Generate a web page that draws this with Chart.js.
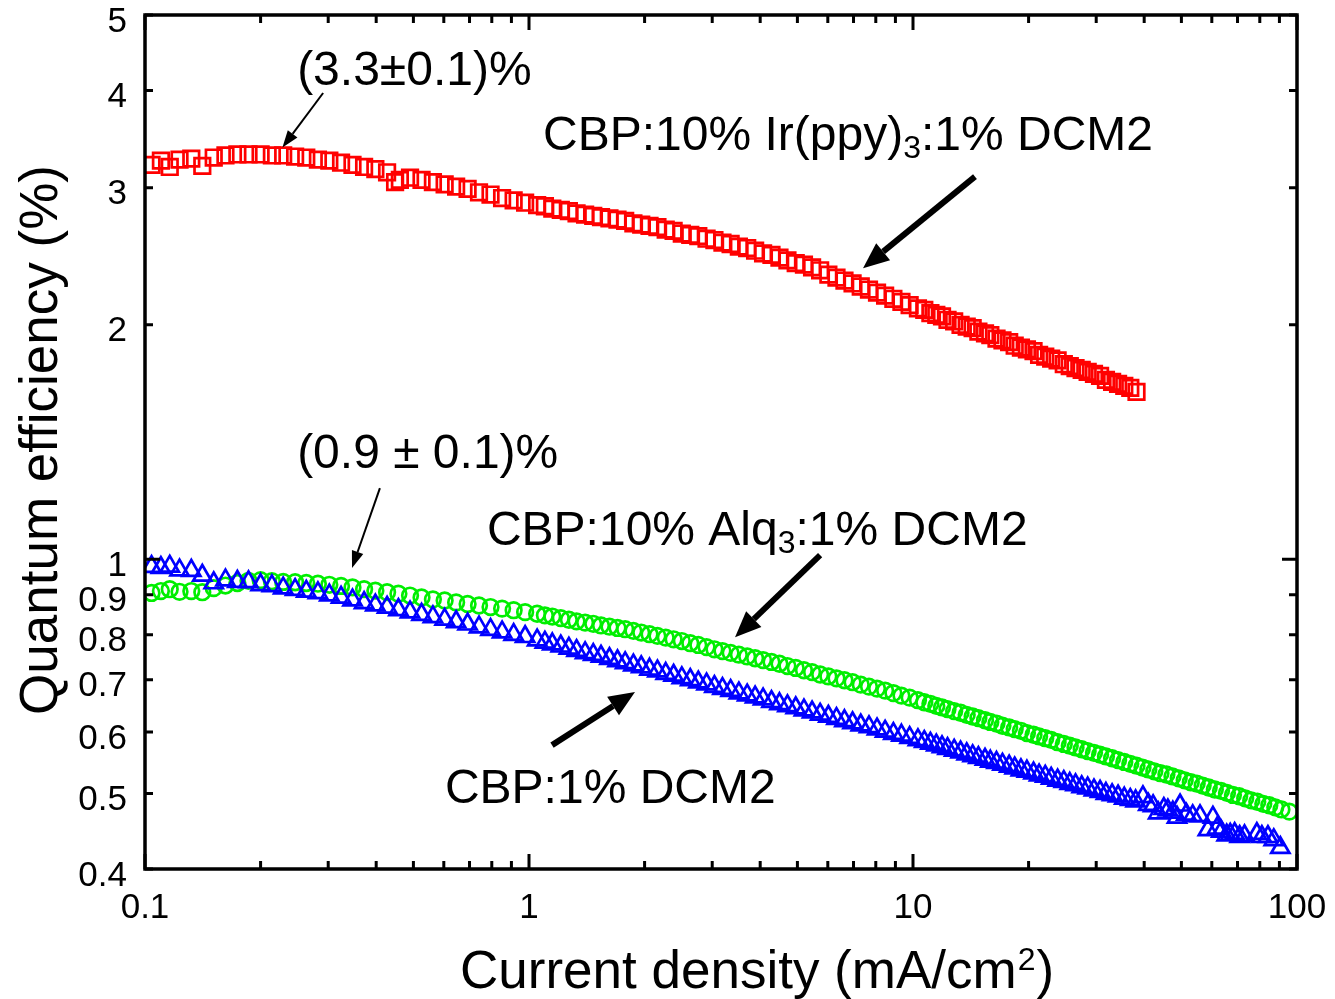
<!DOCTYPE html>
<html>
<head>
<meta charset="utf-8">
<script src="https://cdn.jsdelivr.net/npm/chart.js@4.4.0/dist/chart.umd.min.js"></script>
<style>
  html, body { margin: 0; padding: 0; background: #fff; }
  canvas { display: block; }
</style>
</head>
<body>
<canvas id="qe" width="1335" height="999"></canvas>
<script>
// ticks
const xTicks = [0.1, 1, 10, 100];
const xLabels = ['0.1', '1', '10', '100'];
const xMinor = [0.2, 0.3, 0.4, 0.5, 0.6, 0.7, 0.8, 0.9, 2, 3, 4, 5, 6, 7, 8, 9, 20, 30, 40, 50, 60, 70, 80, 90];
const yTicks = [0.4, 0.5, 0.6, 0.7, 0.8, 0.9, 1, 2, 3, 4, 5];
const yLabels = ['0.4', '0.5', '0.6', '0.7', '0.8', '0.9', '1', '2', '3', '4', '5'];
const yMajor = [1];

// CBP:10% Ir(ppy)3:1% DCM2  (red squares)
const jIr = [0.104, 0.110, 0.116, 0.123, 0.132, 0.141, 0.151, 0.162, 0.174, 0.186, 0.200, 0.214, 0.229, 0.246, 0.263, 0.282, 0.302, 0.324, 0.347, 0.372, 0.398, 0.427, 0.448, 0.461, 0.490, 0.525, 0.562, 0.603, 0.646, 0.692, 0.741, 0.794, 0.851, 0.912, 0.977,
  1.05, 1.10, 1.15, 1.21, 1.27, 1.33, 1.40, 1.47, 1.54, 1.62, 1.70, 1.78, 1.87, 1.96, 2.06, 2.16, 2.27, 2.38, 2.50, 2.63, 2.76, 2.90, 3.04, 3.19, 3.35, 3.52, 3.70, 3.88, 4.07, 4.28, 4.49, 4.71, 4.95, 5.20, 5.46, 5.73, 6.02, 6.32, 6.63, 6.96, 7.31, 7.68, 8.06, 8.46, 8.89, 9.33, 9.80,
  10.3, 10.7, 11.1, 11.5, 11.9, 12.3, 12.8, 13.3, 13.8, 14.3, 14.8, 15.4, 15.9, 16.5, 17.1, 17.8, 18.4, 19.1, 19.8, 20.6, 21.3, 22.1, 22.9, 23.8, 24.7, 25.6, 26.5, 27.5, 28.5, 29.6, 30.7, 31.8, 33.0, 34.2, 35.5, 36.8, 38.2];
const qeIr = [3.21, 3.25, 3.19, 3.26, 3.27, 3.20, 3.28, 3.30, 3.31, 3.31, 3.31, 3.30, 3.30, 3.29, 3.28, 3.26, 3.25, 3.23, 3.21, 3.19, 3.17, 3.14, 3.05, 3.07, 3.09, 3.07, 3.05, 3.03, 3.01, 2.99, 2.96, 2.94, 2.91, 2.89, 2.87,
  2.85, 2.84, 2.82, 2.81, 2.80, 2.78, 2.77, 2.76, 2.75, 2.74, 2.73, 2.72, 2.70, 2.69, 2.68, 2.67, 2.65, 2.64, 2.62, 2.61, 2.60, 2.58, 2.57, 2.55, 2.54, 2.52, 2.51, 2.49, 2.47, 2.46, 2.44, 2.42, 2.40, 2.39, 2.37, 2.35, 2.32, 2.30, 2.28, 2.26, 2.24, 2.22, 2.20, 2.18, 2.16, 2.14, 2.12,
  2.10, 2.09, 2.07, 2.06, 2.05, 2.03, 2.02, 2.00, 1.99, 1.98, 1.96, 1.95, 1.94, 1.92, 1.91, 1.90, 1.88, 1.87, 1.86, 1.85, 1.83, 1.82, 1.81, 1.80, 1.78, 1.77, 1.76, 1.75, 1.74, 1.73, 1.72, 1.70, 1.69, 1.68, 1.67, 1.66, 1.64];

// CBP:10% Alq3:1% DCM2  (green circles)
const jAlq = [0.104, 0.110, 0.116, 0.123, 0.132, 0.141, 0.151, 0.162, 0.174, 0.186, 0.200, 0.214, 0.229, 0.246, 0.263, 0.282, 0.302, 0.324, 0.347, 0.372, 0.398, 0.427, 0.457, 0.490, 0.525, 0.562, 0.603, 0.646, 0.692, 0.741, 0.794, 0.851, 0.912, 0.977,
  1.05, 1.10, 1.15, 1.21, 1.27, 1.33, 1.40, 1.47, 1.54, 1.62, 1.70, 1.78, 1.87, 1.96, 2.06, 2.16, 2.27, 2.38, 2.50, 2.63, 2.76, 2.90, 3.04, 3.19, 3.35, 3.52, 3.70, 3.88, 4.07, 4.28, 4.49, 4.71, 4.95, 5.20, 5.46, 5.73, 6.02, 6.32, 6.63, 6.96, 7.31, 7.68, 8.06, 8.46, 8.89, 9.33, 9.80,
  10.3, 10.7, 11.1, 11.5, 11.9, 12.3, 12.8, 13.3, 13.8, 14.3, 14.8, 15.4, 15.9, 16.5, 17.1, 17.8, 18.4, 19.1, 19.8, 20.6, 21.3, 22.1, 22.9, 23.8, 24.7, 25.6, 26.5, 27.5, 28.5, 29.6, 30.7, 31.8, 33.0, 34.2, 35.5, 36.8, 38.2,
  39.6, 41.0, 42.5, 44.1, 45.7, 47.4, 49.2, 51.0, 52.9, 54.8, 56.8, 58.9, 61.1, 63.4, 65.7, 68.1, 70.7, 73.3, 76.0, 78.8, 81.7, 84.7, 87.8, 91.1, 95.5];
const qeAlq = [0.905, 0.910, 0.915, 0.908, 0.910, 0.907, 0.918, 0.925, 0.932, 0.938, 0.940, 0.937, 0.935, 0.934, 0.932, 0.930, 0.927, 0.924, 0.920, 0.915, 0.911, 0.907, 0.903, 0.898, 0.893, 0.888, 0.885, 0.880, 0.876, 0.872, 0.868, 0.864, 0.860, 0.855,
  0.851, 0.847, 0.844, 0.840, 0.836, 0.832, 0.829, 0.826, 0.822, 0.819, 0.816, 0.813, 0.809, 0.805, 0.801, 0.797, 0.793, 0.789, 0.785, 0.780, 0.776, 0.771, 0.766, 0.762, 0.758, 0.754, 0.750, 0.746, 0.742, 0.738, 0.734, 0.729, 0.725, 0.720, 0.716, 0.711, 0.707, 0.703, 0.699, 0.695, 0.690, 0.686, 0.682, 0.678, 0.673, 0.668, 0.664,
  0.659, 0.655, 0.652, 0.648, 0.645, 0.642, 0.638, 0.635, 0.631, 0.628, 0.625, 0.621, 0.618, 0.615, 0.611, 0.608, 0.605, 0.602, 0.598, 0.595, 0.592, 0.589, 0.586, 0.582, 0.579, 0.576, 0.573, 0.570, 0.567, 0.564, 0.561, 0.558, 0.555, 0.552, 0.549, 0.546, 0.543,
  0.540, 0.537, 0.534, 0.531, 0.529, 0.526, 0.523, 0.520, 0.517, 0.515, 0.512, 0.509, 0.506, 0.504, 0.501, 0.498, 0.496, 0.493, 0.490, 0.488, 0.485, 0.483, 0.480, 0.477, 0.474];

// CBP:1% DCM2  (blue triangles)
const jRef = [0.104, 0.110, 0.116, 0.123, 0.132, 0.141, 0.151, 0.162, 0.174, 0.186, 0.200, 0.214, 0.229, 0.246, 0.263, 0.282, 0.302, 0.324, 0.347, 0.372, 0.398, 0.427, 0.457, 0.490, 0.525, 0.562, 0.603, 0.646, 0.692, 0.741, 0.794, 0.851, 0.912, 0.977,
  1.05, 1.10, 1.15, 1.21, 1.27, 1.33, 1.40, 1.47, 1.54, 1.62, 1.70, 1.78, 1.87, 1.96, 2.06, 2.16, 2.27, 2.38, 2.50, 2.63, 2.76, 2.90, 3.04, 3.19, 3.35, 3.52, 3.70, 3.88, 4.07, 4.28, 4.49, 4.71, 4.95, 5.20, 5.46, 5.73, 6.02, 6.32, 6.63, 6.96, 7.31, 7.68, 8.06, 8.46, 8.89, 9.33, 9.80,
  10.3, 10.7, 11.1, 11.5, 11.9, 12.3, 12.8, 13.3, 13.8, 14.3, 14.8, 15.4, 15.9, 16.5, 17.1, 17.8, 18.4, 19.1, 19.8, 20.6, 21.3, 22.1, 22.9, 23.8, 24.7, 25.6, 26.5, 27.5, 28.5, 29.6, 30.7, 31.8, 33.0, 34.2, 35.5, 36.8,
  38.0, 39.7, 41.0, 42.2, 43.5, 45.0, 46.1, 47.5, 48.7, 49.6, 51.5, 53.5, 55.9, 58.6, 60.4, 61.9, 63.5, 65.6, 67.0, 68.8, 70.9, 73.0, 78.6, 81.0, 84.0, 87.0, 90.5];
const qeRef = [0.978, 0.975, 0.979, 0.968, 0.967, 0.953, 0.932, 0.940, 0.936, 0.935, 0.927, 0.924, 0.918, 0.914, 0.909, 0.905, 0.899, 0.893, 0.886, 0.879, 0.873, 0.867, 0.861, 0.855, 0.849, 0.843, 0.837, 0.831, 0.825, 0.818, 0.812, 0.806, 0.800, 0.795,
  0.787, 0.782, 0.778, 0.773, 0.768, 0.763, 0.758, 0.754, 0.750, 0.745, 0.740, 0.736, 0.731, 0.727, 0.722, 0.718, 0.713, 0.709, 0.704, 0.700, 0.695, 0.691, 0.686, 0.682, 0.678, 0.673, 0.669, 0.665, 0.661, 0.656, 0.652, 0.648, 0.644, 0.640, 0.636, 0.632, 0.628, 0.624, 0.620, 0.616, 0.612, 0.609, 0.605, 0.601, 0.597, 0.594, 0.590,
  0.586, 0.583, 0.580, 0.577, 0.574, 0.571, 0.568, 0.565, 0.562, 0.559, 0.556, 0.553, 0.550, 0.548, 0.545, 0.542, 0.539, 0.536, 0.534, 0.531, 0.528, 0.526, 0.523, 0.520, 0.518, 0.515, 0.513, 0.510, 0.508, 0.505, 0.503, 0.500, 0.498, 0.496, 0.493, 0.491,
  0.489, 0.495, 0.484, 0.482, 0.472, 0.478, 0.476, 0.473, 0.466, 0.483, 0.470, 0.468, 0.468, 0.449, 0.466, 0.451, 0.447, 0.442, 0.443, 0.444, 0.440, 0.441, 0.444, 0.440, 0.440, 0.436, 0.426];

const FONT = '"Liberation Sans", Arial, Helvetica, sans-serif';

// labels & arrows, placed in data units
const notas = [
  { partes: [['(3.3±0.1)%', 0]], en: [0.249, 4.065] },
  { partes: [['CBP:10% Ir(ppy)', 0], ['3', 1], [':1% DCM2', 0]], en: [1.088, 3.354] },
  { partes: [['(0.9 ± 0.1)%', 0]], en: [0.249, 1.309] },
  { partes: [['CBP:10% Alq', 0], ['3', 1], [':1% DCM2', 0]], en: [0.777, 1.043] },
  { partes: [['CBP:1% DCM2', 0]], en: [0.604, 0.486] }
];
const flechas = [
  { de: [0.291, 3.97], a: [0.228, 3.38], w: 2, hl: 17, hw: 6 },
  { de: [14.5, 3.10], a: [7.41, 2.365], w: 6, hl: 26, hw: 11 },
  { de: [0.409, 1.234], a: [0.346, 0.974], w: 2, hl: 17, hw: 6 },
  { de: [5.73, 1.012], a: [3.44, 0.794], w: 6, hl: 26, hw: 11 },
  { de: [1.148, 0.577], a: [1.888, 0.675], w: 6, hl: 26, hw: 11 }
];

const puntos = (xs, ys) => xs.map((v, i) => ({ x: v, y: ys[i] }));

function flecha(ctx, x1, y1, x2, y2, w, hl, hw) {
  const a = Math.atan2(y2 - y1, x2 - x1);
  const bx = x2 - hl * Math.cos(a), by = y2 - hl * Math.sin(a);
  ctx.lineWidth = w;
  ctx.beginPath(); ctx.moveTo(x1, y1); ctx.lineTo(bx, by); ctx.stroke();
  ctx.beginPath();
  ctx.moveTo(x2, y2);
  ctx.lineTo(bx + hw * Math.sin(a), by - hw * Math.cos(a));
  ctx.lineTo(bx - hw * Math.sin(a), by + hw * Math.cos(a));
  ctx.closePath();
  ctx.fill();
}

function texto(ctx, partes, x, y) {
  partes.forEach(([t, sub]) => {
    ctx.font = sub ? '32px ' + FONT : '48px ' + FONT;
    ctx.fillText(t, x, sub ? y + 8 : y);
    x += ctx.measureText(t).width;
  });
}

// frame, inward ticks, titles and notes
const marco = {
  id: 'marco',
  afterDraw(chart) {
    const { ctx, chartArea: { left, right, top, bottom }, scales: { x, y } } = chart;
    ctx.save();
    ctx.strokeStyle = '#000';
    ctx.fillStyle = '#000';
    ctx.lineWidth = 3;
    ctx.beginPath();
    xTicks.concat(xMinor).forEach(v => {
      const px = x.getPixelForValue(v);
      const len = xTicks.includes(v) ? 15 : 8;
      ctx.moveTo(px, bottom); ctx.lineTo(px, bottom - len);
      ctx.moveTo(px, top); ctx.lineTo(px, top + len);
    });
    yTicks.forEach(v => {
      const py = y.getPixelForValue(v);
      const len = yMajor.includes(v) ? 15 : 8;
      ctx.moveTo(left, py); ctx.lineTo(left + len, py);
      ctx.moveTo(right, py); ctx.lineTo(right - len, py);
    });
    ctx.stroke();
    ctx.lineWidth = 3.5;
    ctx.strokeRect(left, top, right - left, bottom - top);

    // axis titles
    ctx.textBaseline = 'alphabetic';
    ctx.textAlign = 'left';
    ctx.font = '53px ' + FONT;
    let tx = 460;
    const t1 = 'Current density (mA/cm';
    ctx.fillText(t1, tx, 988);
    tx += ctx.measureText(t1).width;
    ctx.font = '32px ' + FONT;
    ctx.fillText('2', tx + 1, 970);
    tx += ctx.measureText('2').width + 2;
    ctx.font = '53px ' + FONT;
    ctx.fillText(')', tx, 988);

    ctx.save();
    ctx.translate(57, 440);
    ctx.rotate(-Math.PI / 2);
    ctx.textAlign = 'center';
    ctx.fillText('Quantum efficiency (%)', 0, 0);
    ctx.restore();

    // notes
    notas.forEach(n => {
      texto(ctx, n.partes, x.getPixelForValue(n.en[0]), y.getPixelForValue(n.en[1]));
    });
    flechas.forEach(f => {
      flecha(ctx, x.getPixelForValue(f.de[0]), y.getPixelForValue(f.de[1]),
        x.getPixelForValue(f.a[0]), y.getPixelForValue(f.a[1]), f.w, f.hl, f.hw);
    });
    ctx.restore();
  }
};

new Chart(document.getElementById('qe'), {
  type: 'scatter',
  data: {
    datasets: [
      {
        label: 'CBP:10% Ir(ppy)3:1% DCM2',
        data: puntos(jIr, qeIr),
        pointStyle: 'rect', pointRadius: 11, borderWidth: 2.7,
        borderColor: '#ff0000', backgroundColor: 'rgba(0,0,0,0)',
        order: 3
      },
      {
        label: 'CBP:10% Alq3:1% DCM2',
        data: puntos(jAlq, qeAlq),
        pointStyle: 'circle', pointRadius: 7.8, borderWidth: 2.7,
        borderColor: '#00ee00', backgroundColor: 'rgba(0,0,0,0)',
        order: 2
      },
      {
        label: 'CBP:1% DCM2',
        data: puntos(jRef, qeRef),
        pointStyle: 'triangle', pointRadius: 10.5, borderWidth: 2.7,
        borderColor: '#0000ff', backgroundColor: 'rgba(0,0,0,0)',
        order: 1
      }
    ]
  },
  options: {
    responsive: false,
    animation: false,
    devicePixelRatio: 1,
    events: [],
    layout: { padding: { left: 0, right: 38, top: 15, bottom: 0 } },
    plugins: { legend: { display: false }, tooltip: { enabled: false } },
    scales: {
      x: {
        type: 'logarithmic', min: 0.1, max: 100,
        grid: { display: false, drawTicks: false }, border: { display: false },
        afterBuildTicks: s => { s.ticks = xTicks.map(v => ({ value: v })); },
        afterFit: s => { s.height = 130; s.paddingLeft = 0; s.paddingRight = 0; },
        ticks: {
          autoSkip: false, maxRotation: 0, padding: 18, color: '#000',
          font: { family: FONT, size: 35 },
          callback: (v, i) => xLabels[i]
        }
      },
      y: {
        type: 'logarithmic', min: 0.4, max: 5,
        grid: { display: false, drawTicks: false }, border: { display: false },
        afterBuildTicks: s => { s.ticks = yTicks.map(v => ({ value: v })); },
        afterFit: s => { s.width = 145; s.paddingTop = 0; s.paddingBottom = 0; },
        ticks: {
          autoSkip: false, padding: 18, labelOffset: 7, color: '#000',
          font: { family: FONT, size: 35 },
          callback: (v, i) => yLabels[i]
        }
      }
    }
  },
  plugins: [marco]
});
</script>
</body>
</html>
